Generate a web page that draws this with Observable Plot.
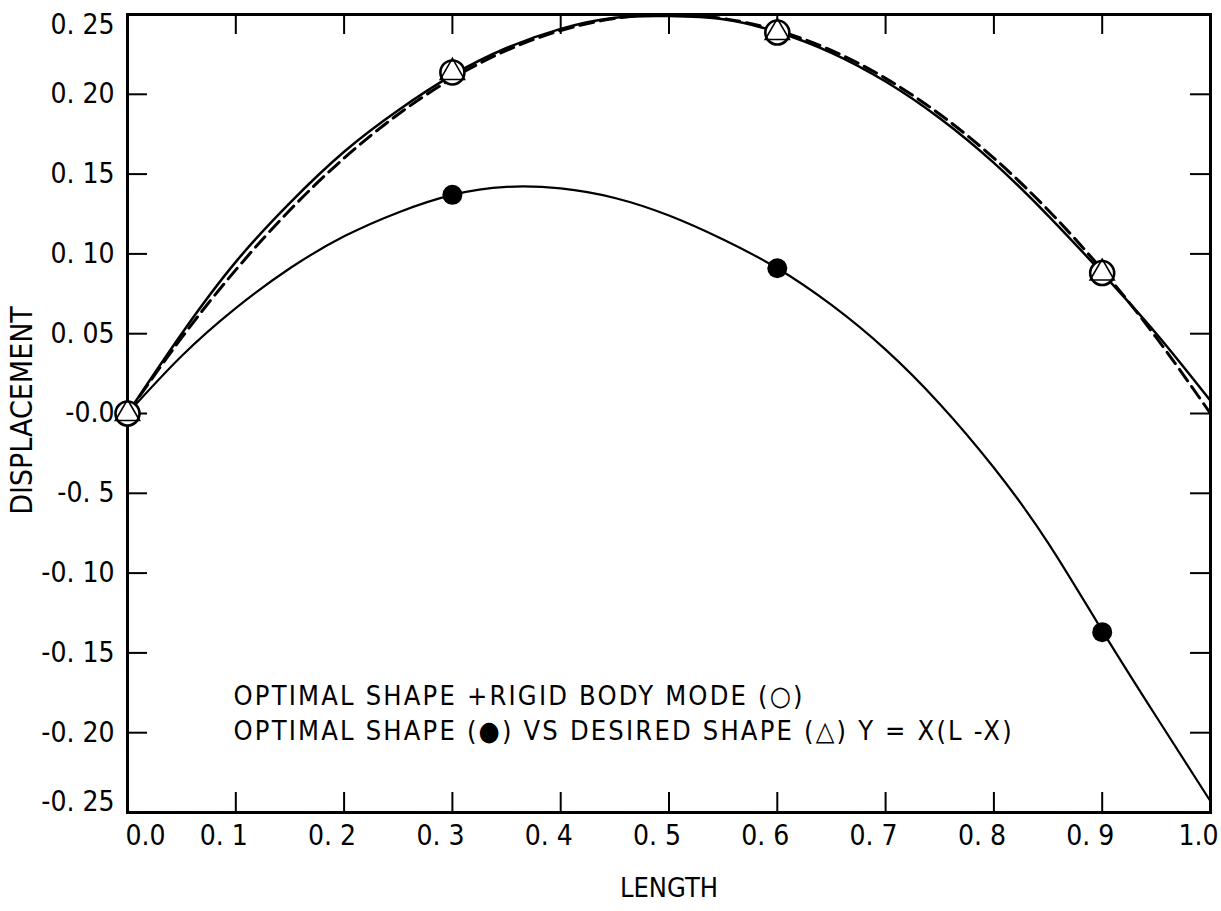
<!DOCTYPE html>
<html><head><meta charset="utf-8">
<script src="https://cdn.jsdelivr.net/npm/d3@7"></script>
<script src="https://cdn.jsdelivr.net/npm/@observablehq/plot@0.6"></script>
<style>body{margin:0;background:#fff;}</style>
</head><body><div id="chart"></div>
<script>
// sampled positions along the beam (LENGTH)
const xGrid = [0,0.05,0.1,0.15,0.2,0.25,0.3,0.35,0.4,0.45,0.5,0.55,0.6,0.65,0.7,0.75,0.8,0.85,0.9,0.95,1.0];
// optimal shape (lower solid curve, ●)
const optimalShape = [0,0.036,0.066,0.091,0.111,0.126,0.137,0.142,0.141,0.135,0.124,0.109,0.091,0.068,0.040,0.006,-0.034,-0.081,-0.136,-0.190,-0.243];
// optimal shape + rigid body mode (upper solid curve, ○)
const optimalPlusRigid = [0,0.050,0.095,0.132,0.164,0.190,0.212,0.229,0.241,0.248,0.249,0.247,0.239,0.226,0.208,0.185,0.157,0.124,0.088,0.050,0.008];
// desired shape Y = X(L-X) (dashed curve, △)
const desiredShape = [0,0.0475,0.09,0.1275,0.16,0.1875,0.21,0.2275,0.24,0.2475,0.25,0.2475,0.24,0.2275,0.21,0.1875,0.16,0.1275,0.09,0.0475,0];
// marked points
const optimalX = [0.3,0.6,0.9];
const optimalPts = [0.137,0.091,-0.137];
const rigidX = [0,0.3,0.6,0.9];
const rigidPts = [0,0.2137,0.2387,0.088];
// ticks
const xTicks = [0,0.1,0.2,0.3,0.4,0.5,0.6,0.7,0.8,0.9,1.0];
const xTickLabels = ["0.0","0. 1","0. 2","0. 3","0. 4","0. 5","0. 6","0. 7","0. 8","0. 9","1.0"];
const yTicks = [-0.25,-0.2,-0.15,-0.1,-0.05,0,0.05,0.1,0.15,0.2,0.25];
const yTickLabels = ["-0. 25","-0. 20","-0. 15","-0. 10","-0. 5","-0.0","0. 05","0. 10","0. 15","0. 20","0. 25"];
const legendLines = ["OPTIMAL SHAPE +RIGID BODY MODE (\u25CB)","OPTIMAL SHAPE (\u25CF) VS DESIRED SHAPE (\u25B3) Y = X(L -X)"];

const curve = (ys) => xGrid.map((x, i) => ({x, y: ys[i]}));
const pts = (xs, ys) => xs.map((x, i) => ({x, y: ys[i]}));
const yLab = d => yTickLabels[yTicks.indexOf(d)];
const xLab = d => xTickLabels[xTicks.indexOf(d)];

const W = 1221, H = 911, mL = 127, mR = 11, mT = 14, mB = 99;
const innerW = W - mL - mR, innerH = H - mT - mB, tick = 20;

const chart = Plot.plot({
  width: W, height: H,
  marginLeft: mL, marginRight: mR, marginTop: mT, marginBottom: mB,
  x: {domain: [0, 1]},
  y: {domain: [-0.25, 0.25]},
  style: {fontFamily: '"DejaVu Sans Condensed", "DejaVu Sans", sans-serif', fontStretch: "condensed", fontSize: "28px", color: "#000", background: "#fff"},
  marks: [
    // inward ticks
    Plot.ruleX(xTicks.slice(1, -1), {x: d => d, insetTop: innerH - tick, stroke: "#000", strokeWidth: 2}),
    Plot.ruleX(xTicks.slice(1, -1), {x: d => d, insetBottom: innerH - tick, stroke: "#000", strokeWidth: 2}),
    Plot.ruleY(yTicks.slice(1, -1), {y: d => d, insetRight: innerW - tick, stroke: "#000", strokeWidth: 2}),
    Plot.ruleY(yTicks.slice(1, -1), {y: d => d, insetLeft: innerW - tick, stroke: "#000", strokeWidth: 2}),
    Plot.frame({stroke: "#000", strokeWidth: 3}),
    // tick labels
    Plot.axisY({ticks: yTicks.slice(1, -1), tickSize: 0, tickPadding: 13, label: null, tickFormat: yLab, fontSize: 28}),
    Plot.axisY({ticks: yTicks.slice(-1), tickSize: 0, tickPadding: 13, label: null, tickFormat: yLab, fontSize: 28, dy: 11}),
    Plot.axisY({ticks: yTicks.slice(0, 1), tickSize: 0, tickPadding: 13, label: null, tickFormat: yLab, fontSize: 28, dy: -10}),
    Plot.axisX({ticks: xTicks.slice(1), tickSize: 0, tickPadding: 13, label: null, dx: -12, tickFormat: xLab, fontSize: 28}),
    Plot.axisX({ticks: xTicks.slice(0, 1), tickSize: 0, tickPadding: 13, label: null, dx: 18, tickFormat: xLab, fontSize: 28}),
    // curves
    Plot.line(curve(desiredShape), {x: "x", y: "y", curve: "natural", stroke: "#000", strokeWidth: 3, strokeDasharray: "14,7"}),
    Plot.line(curve(optimalPlusRigid), {x: "x", y: "y", curve: "natural", stroke: "#000", strokeWidth: 2.5}),
    Plot.line(curve(optimalShape), {x: "x", y: "y", curve: "natural", stroke: "#000", strokeWidth: 2.2}),
    // points
    Plot.dot(pts(optimalX, optimalPts), {x: "x", y: "y", r: 10, fill: "#000", stroke: "none"}),
    Plot.dot(pts(rigidX, rigidPts), {x: "x", y: "y", r: 12, fill: "#fff", stroke: "#000", strokeWidth: 2.6}),
    Plot.dot(pts(rigidX, rigidPts), {x: "x", y: "y", symbol: "triangle", r: 9, fill: "none", stroke: "#000", strokeWidth: 1.6}),
    // legend text
    Plot.text([legendLines[0]], {frameAnchor: "bottom-left", dx: 106, dy: -108, textAnchor: "start", fontSize: 27, text: d => d}),
    Plot.text([legendLines[1]], {frameAnchor: "bottom-left", dx: 106, dy: -73, textAnchor: "start", fontSize: 27, text: d => d}),
    // axis titles
    Plot.text(["DISPLACEMENT"], {frameAnchor: "left", textAnchor: "middle", dx: -105, dy: -3, rotate: -90, fontSize: 30, text: d => d}),
    Plot.text(["LENGTH"], {frameAnchor: "bottom", dx: 0, dy: 84, fontSize: 27, text: d => d})
  ]
});
// wider letter spacing for the two legend lines, as in the original typewritten note
d3.select(chart).selectAll("text").filter(function() { return legendLines.includes(this.textContent); })
  .style("letter-spacing", "2.2px");
document.getElementById("chart").appendChild(chart);
</script>
</body></html>
